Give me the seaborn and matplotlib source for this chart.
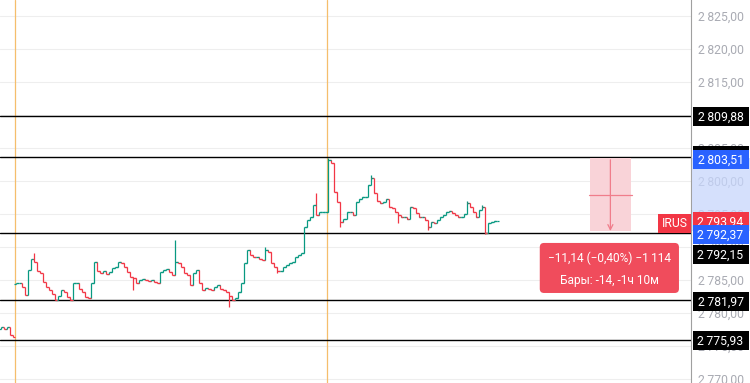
import numpy as np
import pandas as pd
import seaborn as sns
import matplotlib
matplotlib.use('Agg')
import matplotlib.pyplot as plt
import matplotlib.transforms as mtransforms
from matplotlib.patches import Rectangle, FancyBboxPatch

# close of every bar (left to right)
closes = [
    2777.9, 2777.5, 2777.9, 2776.6, 2776.4,
    2784.5, 2784.6, 2784.0, 2782.7, 2786.5, 2788.2, 2787.7, 2786.3, 2786.1, 2784.7,
    2783.9, 2783.5, 2782.8, 2782.0, 2782.5, 2783.5, 2783.2, 2782.4, 2782.0, 2784.5,
    2784.5, 2783.6, 2783.2, 2782.4, 2782.2, 2784.5, 2787.7, 2786.3, 2786.1, 2786.3,
    2785.9, 2786.2, 2786.8, 2787.0, 2787.7, 2787.5, 2787.0, 2786.2, 2785.5, 2785.3,
    2784.6, 2785.0, 2785.1, 2785.0, 2784.9, 2785.0, 2784.7, 2784.6, 2786.2, 2786.5,
    2786.6, 2786.2, 2785.8, 2787.7, 2787.5, 2787.0, 2786.0, 2785.8, 2784.2, 2786.0,
    2786.5, 2784.5, 2783.5, 2783.8, 2783.6, 2783.5, 2783.9, 2784.2, 2783.6, 2783.5,
    2783.2, 2782.6, 2782.0, 2782.2, 2783.2, 2784.5, 2787.6, 2789.5, 2788.8, 2788.5,
    2788.5, 2788.2, 2788.0, 2789.5, 2789.3, 2787.6, 2787.0, 2786.3, 2786.4, 2786.9,
    2787.3, 2787.5, 2787.7, 2788.5, 2788.8, 2789.1, 2793.0, 2794.1, 2794.5, 2796.4,
    2794.8, 2795.3, 2795.3, 2795.3, 2803.2, 2802.7, 2798.3, 2796.8, 2793.8, 2794.3,
    2795.3, 2795.3, 2794.8, 2796.8, 2797.2, 2797.6, 2797.6, 2799.4, 2800.5, 2798.2,
    2796.9, 2796.7, 2796.8, 2797.2, 2796.1, 2795.9, 2795.3, 2794.8, 2794.5, 2794.6,
    2794.3, 2796.1, 2795.9, 2795.1, 2794.5, 2794.5, 2794.1, 2793.0, 2793.8, 2793.7,
    2794.1, 2794.5, 2794.8, 2795.3, 2795.4, 2795.2, 2794.9, 2794.5, 2794.6, 2795.0,
    2796.7, 2796.1, 2795.3, 2794.5, 2795.6, 2796.1, 2792.1, 2793.6, 2793.8, 2793.9,
    2793.94,
]
# opens follow the previous close except at the session start
open_fix = {0: 2777.6, 5: 2784.4}
# wicks that stick out of the open/close range
high_fix = {11: 2789.1, 58: 2791.1, 88: 2790.0, 105: 2798.2, 109: 2803.5,
            123: 2800.9, 155: 2796.9, 160: 2796.4}
low_fix = {44: 2783.5, 76: 2780.9, 92: 2786.1, 113: 2793.0, 132: 2793.6,
           142: 2792.6, 161: 2791.9}

level_prices = [2809.88, 2803.70, 2792.15, 2781.97, 2775.93]
session_breaks = [4.67, 108.67]
measure_top, measure_bottom = 2803.51, 2792.37
last_price = 2793.94
ticker = 'IRUS'
tip_line1 = '\u221211,14 (\u22120,40%) \u22121\u2009114'
tip_line2 = 'Бары: -14, -1ч 10м'
y_ticks = np.arange(2770, 2826, 5)

GREEN = '#089981'
RED = '#F23645'


def fmt(v):
    s = f'{v:.2f}'.replace('.', ',')
    return s[0] + '\u2009' + s[1:]


df = pd.DataFrame({'bar': np.arange(len(closes)), 'close': closes})
df['open'] = df['close'].shift(1).fillna(df['close'])
for k, v in open_fix.items():
    df.loc[k, 'open'] = v
df['high'] = df[['open', 'close']].max(axis=1)
df['low'] = df[['open', 'close']].min(axis=1)
for k, v in high_fix.items():
    df.loc[k, 'high'] = v
for k, v in low_fix.items():
    df.loc[k, 'low'] = v
df['dir'] = np.where(df['close'] >= df['open'], 'up', 'down')
pal = {'up': GREEN, 'down': RED}

sns.set_theme(style='white')
plt.rcParams['font.family'] = ['Roboto', 'DejaVu Sans']

fig = plt.figure(figsize=(7.5, 3.83), dpi=100)
ax = fig.add_axes([0, 0, 691 / 750, 1])
ax.set_xlim(-1 / 3, 690 / 3 - 1 / 3)
ax.set_ylim(2769.39, 2827.42)

# grid + right price scale
ax.set_yticks(y_ticks)
ax.set_yticklabels([fmt(v) for v in y_ticks])
ax.set_xticks([])
ax.yaxis.tick_right()
ax.tick_params(axis='y', length=0, pad=5, labelsize=8.8, labelcolor='#A9ABB3')
ax.yaxis.grid(True, color='#EEEEEE', linewidth=0.8)
for s in ['top', 'left', 'bottom']:
    ax.spines[s].set_visible(False)
ax.spines['right'].set_color('#A0A0A0')
ax.spines['right'].set_linewidth(0.8)
ax.set_axisbelow(True)

for xb in session_breaks:
    ax.axvline(xb, color='#F5BE6C', linewidth=0.9, zorder=1)

for lv in level_prices:
    ax.axhline(lv, color='black', linewidth=1.0, zorder=2)

# OHLC bars
ax.vlines(df['bar'], df['low'], df['high'], colors=df['dir'].map(pal), linewidth=0.9, zorder=3)
sns.scatterplot(data=df, x='bar', y='open', hue='dir', palette=pal, marker=0,
                s=3, linewidth=0.9, legend=False, ax=ax, zorder=3)
sns.scatterplot(data=df, x='bar', y='close', hue='dir', palette=pal, marker=1,
                s=3, linewidth=0.9, legend=False, ax=ax, zorder=3)
ax.set_xlabel('')
ax.set_ylabel('')

# measure tool
mx0, mx1 = 196, 209.67
mxc = (mx0 + mx1) / 2
ax.add_patch(Rectangle((mx0, measure_bottom), mx1 - mx0, measure_top - measure_bottom,
                       facecolor='#F9D3D8', edgecolor='none', zorder=2))
ax.plot([mx0 - 0.3, mx1 + 0.3], [(measure_top + measure_bottom) / 2] * 2,
        color='#F07D8B', linewidth=0.9, zorder=3)
ax.annotate('', xy=(mxc, measure_bottom + 0.05), xytext=(mxc, measure_top - 0.3),
            arrowprops=dict(arrowstyle='->', color='#F07D8B', lw=0.9,
                            shrinkA=0, shrinkB=0, mutation_scale=9), zorder=3)

# tooltip
ax.add_patch(FancyBboxPatch((179.33, 2783.03), 46.33, 7.58,
                            boxstyle='round,pad=0,rounding_size=1.4',
                            mutation_aspect=0.4545, facecolor='#F04C5C',
                            edgecolor='none', zorder=6))
ax.text(202.5, 2788.3, tip_line1, ha='center', va='center', color='white',
        fontsize=8.6, zorder=7)
ax.text(202.5, 2784.85, tip_line2, ha='center', va='center', color='white',
        fontsize=8.6, zorder=7)

# ticker tag
ax.add_patch(Rectangle((218.67, 2792.12), 11.0, 2.88, facecolor=RED,
                       edgecolor='none', zorder=6, clip_on=False))
ax.text(224.17, 2793.56, ticker, ha='center', va='center', color='white',
        fontsize=8.8, zorder=7)

# price labels on the scale
trans = mtransforms.blended_transform_factory(ax.transAxes, ax.transData)
px = 1 / 691
ax.add_patch(Rectangle((1 + px, measure_bottom), 60 * px, measure_top - measure_bottom,
                       transform=trans, facecolor='#C7D6FC', alpha=0.75,
                       edgecolor='none', clip_on=False, zorder=4))

zo = [8]


def price_box(y, text, color):
    h = 19 / 6.6
    ax.add_patch(Rectangle((1 + 1.5 * px, y - h / 2), 56 * px, h, transform=trans,
                           facecolor=color, edgecolor='none', clip_on=False, zorder=zo[0]))
    ax.text(1 + 29.5 * px, y - 0.1, text, transform=trans, ha='center', va='center',
            color='white', fontsize=8.8, clip_on=False, zorder=zo[0] + 0.5)
    zo[0] += 1


price_box(2809.70, fmt(level_prices[0]), 'black')
price_box(2803.90, fmt(level_prices[1]), 'black')
price_box(2803.25, fmt(measure_top), '#2962FF')
price_box(2793.85, fmt(last_price), RED)
price_box(2791.90, fmt(measure_bottom), '#2962FF')
price_box(2788.80, fmt(level_prices[2]), 'black')
price_box(2781.67, fmt(level_prices[3]), 'black')
price_box(2775.76, fmt(level_prices[4]), 'black')

fig.savefig('out.png', dpi=100)
